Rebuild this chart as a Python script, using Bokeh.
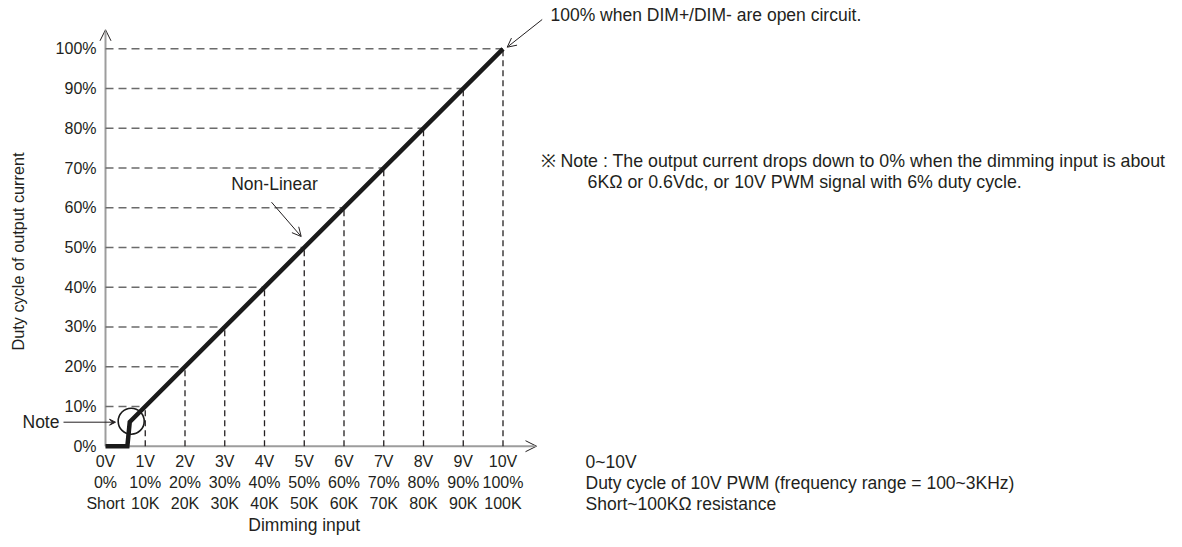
import numpy as np
from bokeh.plotting import figure
from bokeh.models import Range1d, Arrow, OpenHead, VeeHead
from bokeh.core.properties import value
from bokeh.embed import file_html
from bokeh.resources import INLINE

# ---------------- data ----------------
curve_v = [0.0, 0.55, 0.61, 10.0]          # dimming input (V)
curve_pct = [0.0, 0.0, 6.1, 100.0]         # duty cycle of output current (%)

v_ticks = [0, 1, 2, 3, 4, 5, 6, 7, 8, 9, 10]
v_labels = ["0V", "1V", "2V", "3V", "4V", "5V", "6V", "7V", "8V", "9V", "10V"]
pwm_labels = ["0%", "10%", "20%", "30%", "40%", "50%", "60%", "70%", "80%", "90%", "100%"]
res_labels = ["Short", "10K", "20K", "30K", "40K", "50K", "60K", "70K", "80K", "90K", "100K"]

pct_ticks = [0, 10, 20, 30, 40, 50, 60, 70, 80, 90, 100]
pct_labels = ["0%", "10%", "20%", "30%", "40%", "50%", "60%", "70%", "80%", "90%", "100%"]

legend_rows = ["0~10V",
               "Duty cycle of 10V PWM (frequency range = 100~3KHz)",
               "Short~100KΩ resistance"]
note_lines = ["※ Note : The output current drops down to 0% when the dimming input is about",
              "6KΩ or 0.6Vdc, or 10V PWM signal with 6% duty cycle."]

# ---------------- layout helpers (page pixels -> data units) ----------------
W, H = 1180, 545
OX, OY = 105.0, 445.7        # page px of origin
SX, SY = 39.75, 3.974        # px per volt, px per percent


def dx(px):
    return (px - OX) / SX


def dy(py):
    return (OY - py) / SY


FONT = "Liberation Sans"
FS = "17.5px"
TFS = "16px"
TXT = "#231f20"

p = figure(width=W, height=H, output_backend="svg", toolbar_location=None,
           x_range=Range1d(dx(0), dx(W)), y_range=Range1d(dy(H), dy(0)),
           x_axis_location=None, y_axis_location=None, min_border=0)
p.grid.visible = False
p.outline_line_color = None
p.background_fill_color = "white"
p.border_fill_color = "white"

# dashed guide lines from curve
hv = [t for t in pct_ticks if t > 0]
hx = list(np.interp(hv, curve_pct[2:], curve_v[2:]))
p.segment(x0=[0] * len(hv), y0=hv, x1=hx, y1=hv, line_color="#6b6b6b",
          line_width=1.4, line_dash="8 5")
vv = [t for t in v_ticks if t > 0]
vy = list(np.interp(vv, curve_v, curve_pct))
p.segment(x0=vv, y0=[0] * len(vv), x1=vv, y1=vy, line_color="#231f20",
          line_width=1.3, line_dash="6 4")

# axes with arrow heads (drawn beneath the curve)
p.add_layout(Arrow(x_start=0, y_start=0, x_end=0, y_end=dy(29.3),
                   line_color="#9d9d9d", line_width=2, level="underlay",
                   end=OpenHead(size=11, line_color="#231f20", line_width=1)))
p.add_layout(Arrow(x_start=0, y_start=0, x_end=dx(536), y_end=0,
                   line_color="#9d9d9d", line_width=2, level="underlay",
                   end=OpenHead(size=11, line_color="#231f20", line_width=1)))

# main curve
p.line(curve_v, curve_pct, line_color="#1a1a1a", line_width=4.5,
       line_join="miter")

# y tick labels
p.text(x=[dx(96)] * len(pct_ticks), y=pct_ticks, text=pct_labels,
       text_font=value(FONT), text_font_size=TFS, text_color=TXT,
       text_align="right", text_baseline="middle")

# x tick label rows
for row, ypx in ((v_labels, 461), (pwm_labels, 482), (res_labels, 503)):
    p.text(x=v_ticks, y=[dy(ypx)] * len(v_ticks), text=row,
           text_font=value(FONT), text_font_size=TFS, text_color=TXT,
           text_align="center", text_baseline="middle")

p.text(x=[5], y=[dy(524)], text=["Dimming input"], text_font=value(FONT),
       text_font_size=FS, text_color=TXT, text_align="center",
       text_baseline="middle")

# y axis title
p.text(x=[dx(17)], y=[dy(251)], text=["Duty cycle of output current"],
       angle=np.pi / 2, text_font=value(FONT), text_font_size="16.3px",
       text_color=TXT, text_align="center", text_baseline="middle")

# legend rows on the right
p.text(x=[dx(585)] * 3, y=[dy(461), dy(482), dy(503)], text=legend_rows,
       text_font=value(FONT), text_font_size=FS, text_color=TXT,
       text_align="left", text_baseline="middle")

# note block
p.text(x=[dx(540), dx(587)], y=[dy(160), dy(181)], text=note_lines,
       text_font=value(FONT), text_font_size="17.8px", text_color=TXT,
       text_align="left", text_baseline="middle")

# annotation: 100% when open
p.text(x=[dx(550)], y=[dy(14)], text=["100% when DIM+/DIM- are open circuit."],
       text_font=value(FONT), text_font_size=FS, text_color=TXT,
       text_align="left", text_baseline="middle")
p.add_layout(Arrow(x_start=dx(541.7), y_start=dy(19), x_end=dx(506.7), y_end=dy(46.7),
                   line_color=TXT, line_width=1,
                   end=OpenHead(size=9, line_color=TXT, line_width=1)))

# annotation: Non-Linear
p.text(x=[dx(274)], y=[dy(183)], text=["Non-Linear"],
       text_font=value(FONT), text_font_size=FS, text_color=TXT,
       text_align="center", text_baseline="middle")
p.add_layout(Arrow(x_start=dx(271), y_start=dy(201.7), x_end=dx(300.7), y_end=dy(236),
                   line_color=TXT, line_width=1,
                   end=OpenHead(size=9, line_color=TXT, line_width=1)))

# annotation: Note circle
p.text(x=[dx(22)], y=[dy(421)], text=["Note"],
       text_font=value(FONT), text_font_size=FS, text_color=TXT,
       text_align="left", text_baseline="middle")
p.add_layout(Arrow(x_start=dx(63), y_start=dy(421.7), x_end=dx(115), y_end=dy(421.7),
                   line_color=TXT, line_width=1,
                   end=VeeHead(size=6, line_color=TXT, fill_color=TXT, line_width=1)))
p.scatter(x=[dx(130.7)], y=[dy(420.7)], size=26, marker="circle",
          fill_color=None, line_color="#1a1a1a", line_width=1.6)

open("out.html", "w").write(file_html(p, INLINE))
